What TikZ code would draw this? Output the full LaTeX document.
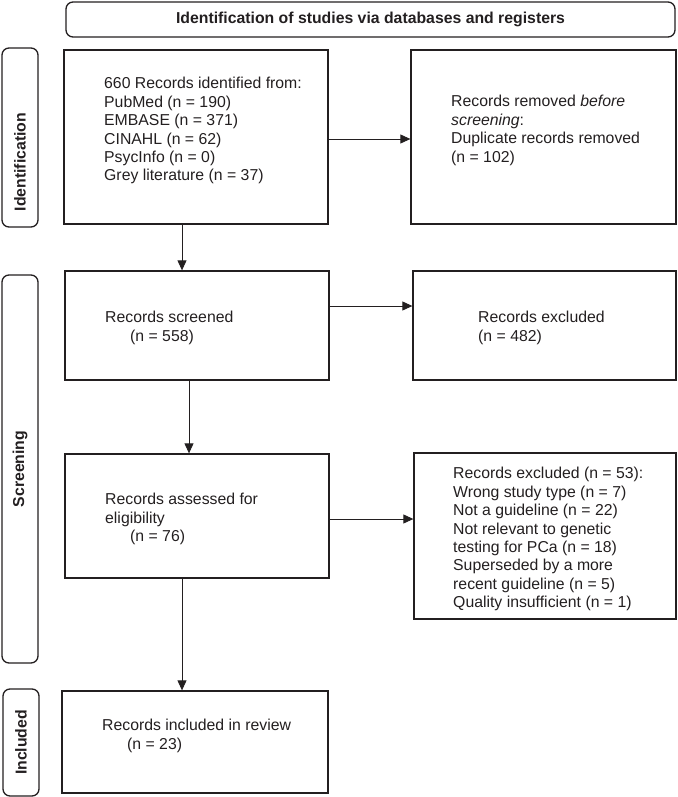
\documentclass[tikz,border=0pt]{standalone}
\usepackage{fontspec}
\setmainfont{Liberation Sans}
\usetikzlibrary{arrows.meta}
\definecolor{ink}{HTML}{231F20}
\begin{document}
\begin{tikzpicture}[x=1pt,y=-1pt,
  txt/.style={font=\fontsize{15.8}{18.4}\selectfont, text=ink, align=left, anchor=north west, inner sep=0pt},
  boxx/.style={draw=ink, line width=1.3pt, rectangle, inner sep=0pt},
  lbl/.style={draw=ink, line width=1.3pt, rounded corners=7pt, inner sep=0pt},
  lbltxt/.style={font=\fontsize{15.8}{18.4}\selectfont\bfseries, text=ink, rotate=90, inner sep=0pt},
  arr/.style={draw=ink, line width=0.9pt, -{Triangle[length=10pt,width=9pt]}}]
\useasboundingbox (0,0) rectangle (677,797);
% header
\node[lbl, minimum width=609pt, minimum height=35pt, font=\fontsize{15.8}{18.4}\selectfont\bfseries, text=ink] (head) at (370.5,19.5) {Identification of studies via databases and registers};
% side labels
\node[lbl, minimum width=36pt, minimum height=179pt] (idl) at (20,137.5) {};
\node[lbltxt] (idt) at (20,162) {Identification};
\node[lbl, minimum width=36pt, minimum height=388pt] (scl) at (20,469) {};
\node[lbltxt] (sct) at (20,469) {Screening};
\node[lbl, minimum width=36pt, minimum height=107pt] (inl) at (21,742.5) {};
\node[lbltxt] (int) at (21,742.5) {Included};
% boxes
\node[boxx, minimum width=264pt, minimum height=174pt] (b1) at (196,137) {};
\node[boxx, minimum width=265pt, minimum height=174pt] (b2) at (543.5,137) {};
\node[boxx, minimum width=264pt, minimum height=109pt] (b3) at (197,325.5) {};
\node[boxx, minimum width=263pt, minimum height=109pt] (b4) at (544.5,325.5) {};
\node[boxx, minimum width=264pt, minimum height=124pt] (b5) at (197,516) {};
\node[boxx, minimum width=262pt, minimum height=166pt] (b6) at (545,536) {};
\node[boxx, minimum width=266pt, minimum height=102pt] (b7) at (195,742) {};
% texts
\node[txt] (t1) at (104,75.8) {\strut 660 Records identified from:\\PubMed (n = 190)\\EMBASE (n = 371)\\CINAHL (n = 62)\\PsycInfo (n = 0)\\Grey literature (n = 37)};
\node[txt] (t2) at (451,93.8) {\strut Records removed \textit{before}\\\textit{screening}:\\Duplicate records removed\\(n = 102)};
\node[txt] (t3) at (105,309.8) {\strut Records screened\\\hspace*{25pt}(n = 558)};
\node[txt] (t4) at (478,309.8) {\strut Records excluded\\(n = 482)};
\node[txt] (t5) at (105,491.8) {\strut Records assessed for\\eligibility\\\hspace*{25pt}(n = 76)};
\node[txt] (t6) at (453,465.8) {\strut Records excluded (n = 53):\\Wrong study type (n = 7)\\Not a guideline (n = 22)\\Not relevant to genetic\\testing for PCa (n = 18)\\Superseded by a more\\recent guideline (n = 5)\\Quality insufficient (n = 1)};
\node[txt] (t7) at (102,717.8) {\strut Records included in review\\\hspace*{25pt}(n = 23)};
% connectors
\draw[arr] ([yshift=-2pt]b1.east) -- ([yshift=-2pt]b2.west);
\draw[arr] ([xshift=-14pt]b1.south) -- ([xshift=-15pt]b3.north);
\draw[arr] ([yshift=19.5pt]b3.east) -- ([yshift=19.5pt]b4.west);
\draw[arr] ([xshift=-8pt]b3.south) -- ([xshift=-8pt]b5.north);
\draw[arr] ([yshift=-3pt]b5.east) -- ([yshift=17pt]b6.west);
\draw[arr] ([xshift=-15pt]b5.south) -- ([xshift=-13pt]b7.north);
\end{tikzpicture}
\end{document}
